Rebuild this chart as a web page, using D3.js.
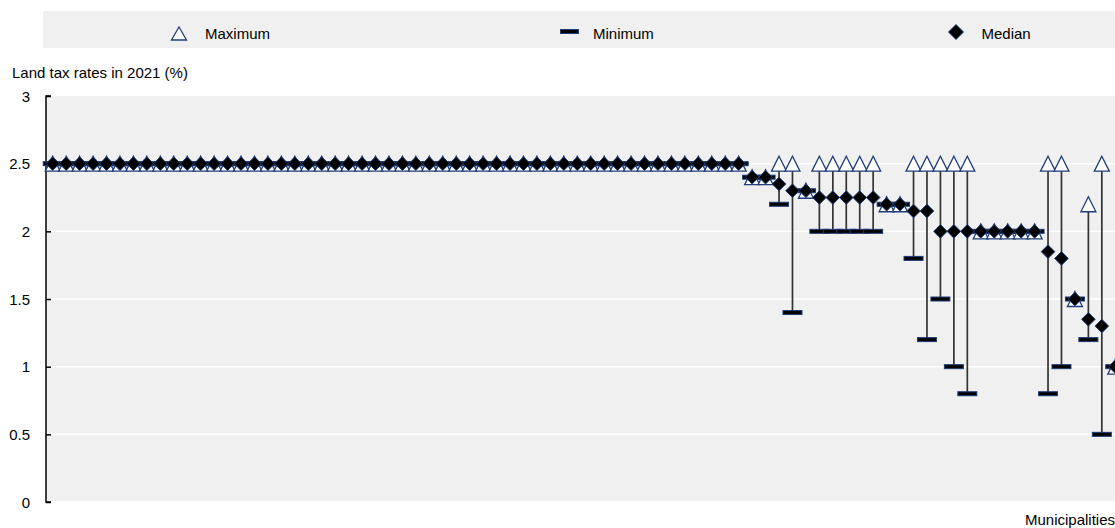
<!DOCTYPE html>
<html>
<head>
<meta charset="utf-8">
<script src="https://cdn.jsdelivr.net/npm/d3@7"></script>
<style>
  body { margin: 0; background: #fff; }
  svg text { font-family: "Liberation Sans", Arial, sans-serif; font-size: 15px; fill: #000; }
</style>
</head>
<body>
<div id="main"></div>
<script>
var ctx = {
    width: 1115,
    height: 528,
    navy: "#1f3d78",
    bg: "#f0f0f0"
};

// one entry per municipality, sorted as in the picture
var maximum = [
    2.5,2.5,2.5,2.5,2.5,2.5,2.5,2.5,2.5,2.5,
    2.5,2.5,2.5,2.5,2.5,2.5,2.5,2.5,2.5,2.5,
    2.5,2.5,2.5,2.5,2.5,2.5,2.5,2.5,2.5,2.5,
    2.5,2.5,2.5,2.5,2.5,2.5,2.5,2.5,2.5,2.5,
    2.5,2.5,2.5,2.5,2.5,2.5,2.5,2.5,2.5,2.5,
    2.5,2.5,2.4,2.4,2.5,2.5,2.3,2.5,2.5,2.5,
    2.5,2.5,2.2,2.2,2.5,2.5,2.5,2.5,2.5,2.0,
    2.0,2.0,2.0,2.0,2.5,2.5,1.5,2.2,2.5,1.0
];
var minimum = [
    2.5,2.5,2.5,2.5,2.5,2.5,2.5,2.5,2.5,2.5,
    2.5,2.5,2.5,2.5,2.5,2.5,2.5,2.5,2.5,2.5,
    2.5,2.5,2.5,2.5,2.5,2.5,2.5,2.5,2.5,2.5,
    2.5,2.5,2.5,2.5,2.5,2.5,2.5,2.5,2.5,2.5,
    2.5,2.5,2.5,2.5,2.5,2.5,2.5,2.5,2.5,2.5,
    2.5,2.5,2.4,2.4,2.2,1.4,2.3,2.0,2.0,2.0,
    2.0,2.0,2.2,2.2,1.8,1.2,1.5,1.0,0.8,2.0,
    2.0,2.0,2.0,2.0,0.8,1.0,1.5,1.2,0.5,1.0
];
var median = [
    2.5,2.5,2.5,2.5,2.5,2.5,2.5,2.5,2.5,2.5,
    2.5,2.5,2.5,2.5,2.5,2.5,2.5,2.5,2.5,2.5,
    2.5,2.5,2.5,2.5,2.5,2.5,2.5,2.5,2.5,2.5,
    2.5,2.5,2.5,2.5,2.5,2.5,2.5,2.5,2.5,2.5,
    2.5,2.5,2.5,2.5,2.5,2.5,2.5,2.5,2.5,2.5,
    2.5,2.5,2.4,2.4,2.35,2.3,2.3,2.25,2.25,2.25,
    2.25,2.25,2.2,2.2,2.15,2.15,2.0,2.0,2.0,2.0,
    2.0,2.0,2.0,2.0,1.85,1.8,1.5,1.35,1.3,1.0
];
var yTicks = [0, 0.5, 1, 1.5, 2, 2.5, 3];
var legendItems = ["Maximum", "Minimum", "Median"];

var trianglePath = function(cx, cy, w, h) {
    return "M" + cx + "," + (cy - h / 2) + "L" + (cx + w / 2) + "," + (cy + h / 2) +
           "L" + (cx - w / 2) + "," + (cy + h / 2) + "Z";
};
var diamondPath = function(cx, cy, r) {
    return "M" + cx + "," + (cy - r) + "L" + (cx + r) + "," + cy +
           "L" + cx + "," + (cy + r) + "L" + (cx - r) + "," + cy + "Z";
};

var createChart = function(svg) {
    var data = maximum.map(function(m, i) {
        return {id: i, max: m, min: minimum[i], med: median[i]};
    });

    var x = d3.scaleBand()
              .domain(data.map(function(d) { return d.id; }))
              .range([46, 1122]);
    var y = d3.scaleLinear().domain([0, 3]).range([502, 96]);
    var cx = function(d) { return x(d.id) + x.bandwidth() / 2; };

    svg.attr("width", ctx.width).attr("height", ctx.height);

    // legend band
    svg.append("rect")
       .attr("x", 43).attr("y", 11)
       .attr("width", ctx.width - 43).attr("height", 37)
       .attr("fill", ctx.bg);
    var lg = svg.append("g");
    lg.append("path").attr("d", trianglePath(179, 33.5, 15, 13))
      .attr("fill", "#fff").attr("stroke", ctx.navy).attr("stroke-width", 1.3);
    lg.append("text").attr("x", 205).attr("y", 38.5).text(legendItems[0]);
    lg.append("rect").attr("x", 560.5).attr("y", 29.5).attr("width", 18).attr("height", 4)
      .attr("fill", "#000").attr("stroke", ctx.navy).attr("stroke-width", 1);
    lg.append("text").attr("x", 593).attr("y", 38.5).text(legendItems[1]);
    lg.append("path").attr("d", diamondPath(956, 32, 7.5))
      .attr("fill", "#000").attr("stroke", ctx.navy).attr("stroke-width", 1);
    lg.append("text").attr("x", 981.5).attr("y", 38.5).text(legendItems[2]);

    // plot background and grid
    svg.append("rect")
       .attr("x", 47).attr("y", y(3))
       .attr("width", ctx.width - 47).attr("height", y(0) - y(3) - 1)
       .attr("fill", ctx.bg);
    svg.append("g").selectAll("line")
       .data(yTicks.filter(function(t) { return t > 0 && t < 3; }))
       .enter().append("line")
         .attr("x1", 47).attr("x2", ctx.width)
         .attr("y1", function(t) { return y(t); })
         .attr("y2", function(t) { return y(t); })
         .attr("stroke", "#fff").attr("stroke-width", 1.5);

    // y axis, ticks pointing inward
    var yAxis = d3.axisRight(y).tickValues(yTicks).tickSize(5)
                  .tickFormat(function(t) { return String(t); });
    var axG = svg.append("g").attr("transform", "translate(46,0)").call(yAxis);
    axG.select(".domain").attr("stroke", "#000").attr("stroke-width", 1.5)
       .attr("d", "M5," + y(3) + "H0V" + y(0) + "H5");
    axG.selectAll(".tick line").attr("stroke", "#000").attr("stroke-width", 1.5);
    axG.selectAll(".tick text")
       .attr("x", -16).attr("text-anchor", "end")
       .attr("font-size", null).attr("font-family", null)
       .attr("dy", "0.35em");
    axG.attr("font-size", null).attr("font-family", null);

    svg.append("text").attr("x", 12).attr("y", 78).text("Land tax rates in 2021 (%)");
    svg.append("text").attr("x", 1115).attr("y", 525).attr("text-anchor", "end").text("Municipalities");

    var marks = svg.append("g");
    // whiskers
    marks.append("g").selectAll("line")
         .data(data.filter(function(d) { return d.max > d.min; }))
         .enter().append("line")
           .attr("x1", cx).attr("x2", cx)
           .attr("y1", function(d) { return y(d.max); })
           .attr("y2", function(d) { return y(d.min); })
           .attr("stroke", "#333").attr("stroke-width", 1.7);
    // maximum
    marks.append("g").selectAll("path")
         .data(data).enter().append("path")
           .attr("d", function(d) { return trianglePath(cx(d), y(d.max), 15, 15); })
           .attr("fill", "#fff").attr("stroke", ctx.navy).attr("stroke-width", 1.3);
    // minimum
    marks.append("g").selectAll("rect")
         .data(data).enter().append("rect")
           .attr("x", function(d) { return cx(d) - 9.5; })
           .attr("y", function(d) { return y(d.min) - 2; })
           .attr("width", 19).attr("height", 4)
           .attr("fill", "#000").attr("stroke", ctx.navy).attr("stroke-width", 1);
    // median
    marks.append("g").selectAll("path")
         .data(data).enter().append("path")
           .attr("d", function(d) { return diamondPath(cx(d), y(d.med), 6.8); })
           .attr("fill", "#000").attr("stroke", ctx.navy).attr("stroke-width", 1);
};

var svgEl = d3.select("#main").append("svg");
createChart(svgEl);
</script>
</body>
</html>
